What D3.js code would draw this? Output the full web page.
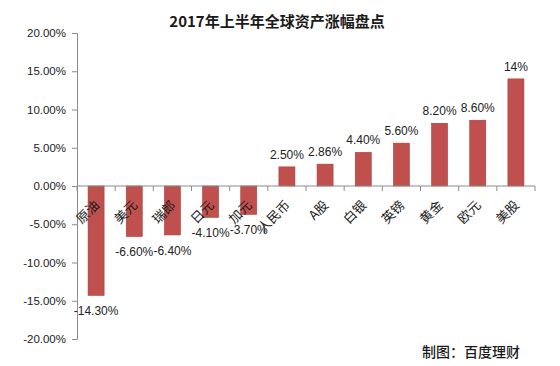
<!DOCTYPE html>
<html><head><meta charset="utf-8">
<script src="https://cdn.jsdelivr.net/npm/d3@7"></script>
<style>
body{margin:0;background:#fff;}
svg{display:block;}
text{font-family:"Liberation Sans",Arial,"Noto Sans CJK SC",sans-serif;}
</style></head>
<body><svg id="c" width="560" height="366"></svg>
<script>
const categories = ["原油","美元","瑞郎","日元","加元","人民币","A股","白银","英镑","黄金","欧元","美股"];
const values = [-14.3,-6.6,-6.4,-4.1,-3.7,2.5,2.86,4.4,5.6,8.2,8.6,14];
const valueLabels = ["-14.30%","-6.60%","-6.40%","-4.10%","-3.70%","2.50%","2.86%","4.40%","5.60%","8.20%","8.60%","14%"];
const yTicks = [20,15,10,5,0,-5,-10,-15,-20];
const yTickLabels = ["20.00%","15.00%","10.00%","5.00%","0.00%","-5.00%","-10.00%","-15.00%","-20.00%"];
const title = "2017年上半年全球资产涨幅盘点";
const credit = "制图：百度理财";

const svg = d3.select("#c");
const x = d3.scaleBand().domain(categories).range([77,535]).paddingInner(0.58).paddingOuter(0.29);
const y = d3.scaleLinear().domain([-20,20]).range([339,33]);

svg.append("text").attr("x",277).attr("y",27).attr("text-anchor","middle")
  .attr("font-size",15).attr("font-weight","bold").attr("fill","#1a1a1a")
  .style("font-family","'Noto Sans CJK SC',sans-serif").text(title);

// y axis
const yAxis = d3.axisLeft(y).tickValues(yTicks).tickSize(5).tickFormat((d,i)=>yTickLabels[i]);
const ga = svg.append("g").attr("transform","translate(77,0)").call(yAxis);
ga.select(".domain").attr("stroke","#8c8c8c");
ga.selectAll(".tick line").attr("stroke","#8c8c8c");
ga.selectAll(".tick text").attr("font-size",11.5).attr("fill","#222").attr("x",-11)
  .style("font-family","'Liberation Sans',Arial,sans-serif");

// bars
svg.append("g").selectAll("rect").data(values).join("rect")
  .attr("x",(d,i)=>x(categories[i]))
  .attr("width",x.bandwidth())
  .attr("y",d=>y(Math.max(0,d)))
  .attr("height",d=>Math.abs(y(d)-y(0)))
  .attr("fill","#c0504d").attr("stroke","#a8403d").attr("stroke-width",0.6);

// x axis line and ticks at category boundaries
const xg = svg.append("g");
xg.append("line").attr("x1",77).attr("x2",535).attr("y1",y(0)).attr("y2",y(0)).attr("stroke","#8c8c8c");
const step = x.step();
d3.range(categories.length+1).forEach(i=>{
  const xx = x.range()[0] + i*step;
  xg.append("line").attr("x1",xx).attr("x2",xx).attr("y1",y(0)).attr("y2",y(0)+5).attr("stroke","#8c8c8c");
});

// category labels rotated
svg.append("g").selectAll("text").data(categories).join("text")
  .attr("transform",d=>`translate(${x(d)+x.bandwidth()/2+4},${y(0)+20}) rotate(-45)`)
  .attr("text-anchor","end").attr("font-size",13).attr("fill","#1a1a1a")
  .style("font-family","'Noto Sans CJK SC',sans-serif")
  .text(d=>d);

// value labels
svg.append("g").selectAll("text").data(values).join("text")
  .attr("x",(d,i)=>x(categories[i])+x.bandwidth()/2)
  .attr("y",d=>d>=0? y(d)-8 : y(d)+20)
  .attr("text-anchor","middle").attr("font-size",12).attr("fill","#222")
  .text((d,i)=>valueLabels[i]);

svg.append("text").attr("x",520).attr("y",357).attr("text-anchor","end")
  .attr("font-size",14).attr("font-weight",500).attr("fill","#1a1a1a")
  .style("font-family","'Noto Sans CJK SC',sans-serif").text(credit);
</script></body></html>
